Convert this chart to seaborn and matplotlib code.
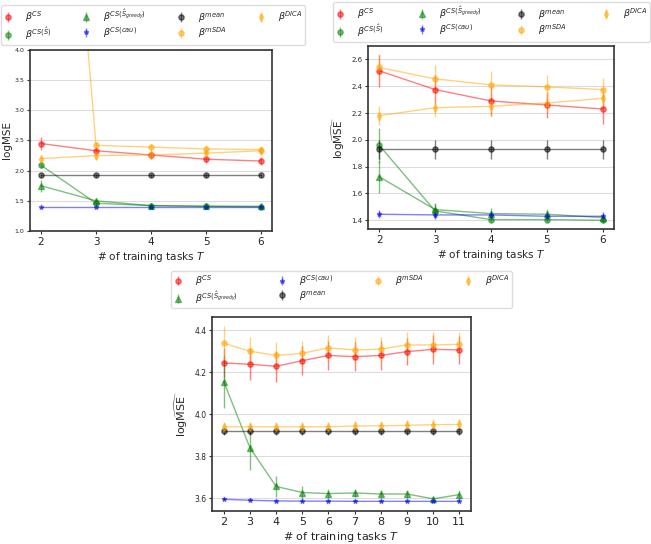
import numpy as np
import pandas as pd
import matplotlib
matplotlib.use("Agg")
import matplotlib.pyplot as plt
import seaborn as sns

# number of training tasks
T_small = [2, 3, 4, 5, 6]
T_large = [2, 3, 4, 5, 6, 7, 8, 9, 10, 11]

# panel 1 (top left)
cs_a = [2.45, 2.33, 2.26, 2.19, 2.16]
cs_a_err = [0.11, 0.07, 0.07, 0.06, 0.06]
shat_a = [2.09, 1.46, 1.42, 1.41, 1.40]
shat_a_err = [0.05, 0.03, 0.02, 0.02, 0.02]
greedy_a = [1.75, 1.50, 1.42, 1.41, 1.41]
greedy_a_err = [0.10, 0.04, 0.02, 0.02, 0.02]
cau_a = [1.39, 1.39, 1.39, 1.39, 1.39]
cau_a_err = [0.01, 0.01, 0.01, 0.01, 0.01]
mean_a = [1.92, 1.92, 1.92, 1.92, 1.92]
mean_a_err = [0.03, 0.03, 0.03, 0.03, 0.03]
msda_a = [13.3, 2.42, 2.39, 2.36, 2.35]
msda_a_err = [1.0, 0.06, 0.06, 0.06, 0.06]
dica_a = [2.20, 2.25, 2.26, 2.29, 2.33]
dica_a_err = [0.05, 0.05, 0.05, 0.05, 0.05]

# panel 2 (top right)
cs_b = [2.515, 2.375, 2.29, 2.26, 2.23]
cs_b_err = [0.12, 0.11, 0.11, 0.10, 0.11]
shat_b = [1.96, 1.47, 1.405, 1.405, 1.40]
shat_b_err = [0.13, 0.05, 0.02, 0.02, 0.02]
greedy_b = [1.725, 1.48, 1.45, 1.445, 1.42]
greedy_b_err = [0.12, 0.05, 0.04, 0.04, 0.03]
cau_b = [1.445, 1.44, 1.44, 1.43, 1.43]
cau_b_err = [0.03, 0.03, 0.03, 0.03, 0.03]
mean_b = [1.93, 1.93, 1.93, 1.93, 1.93]
mean_b_err = [0.07, 0.07, 0.07, 0.07, 0.07]
msda_b = [2.54, 2.455, 2.41, 2.395, 2.375]
msda_b_err = [0.10, 0.10, 0.10, 0.09, 0.09]
dica_b = [2.18, 2.24, 2.25, 2.275, 2.31]
dica_b_err = [0.07, 0.07, 0.07, 0.07, 0.07]

# panel 3 (bottom)
cs_c = [4.244, 4.238, 4.228, 4.255, 4.28, 4.274, 4.28, 4.298, 4.309, 4.306]
cs_c_err = [0.07, 0.075, 0.075, 0.07, 0.07, 0.07, 0.07, 0.065, 0.07, 0.065]
greedy_c = [4.155, 3.84, 3.656, 3.627, 3.622, 3.625, 3.62, 3.62, 3.597, 3.617]
greedy_c_err = [0.125, 0.105, 0.05, 0.03, 0.02, 0.02, 0.02, 0.02, 0.01, 0.02]
cau_c = [3.595, 3.59, 3.587, 3.586, 3.586, 3.585, 3.585, 3.585, 3.585, 3.585]
cau_c_err = [0.005, 0.005, 0.005, 0.005, 0.005, 0.005, 0.005, 0.005, 0.005, 0.005]
mean_c = [3.918, 3.918, 3.918, 3.918, 3.918, 3.918, 3.918, 3.918, 3.918, 3.918]
mean_c_err = [0.015, 0.015, 0.015, 0.015, 0.015, 0.015, 0.015, 0.015, 0.015, 0.015]
msda_c = [4.338, 4.30, 4.28, 4.29, 4.316, 4.306, 4.31, 4.33, 4.33, 4.333]
msda_c_err = [0.08, 0.07, 0.065, 0.06, 0.06, 0.06, 0.06, 0.06, 0.06, 0.06]
dica_c = [3.94, 3.94, 3.94, 3.94, 3.94, 3.944, 3.945, 3.947, 3.95, 3.951]
dica_c_err = [0.025, 0.025, 0.025, 0.025, 0.025, 0.025, 0.025, 0.025, 0.025, 0.025]

labels = {
    'cs': r'$\beta^{CS}$',
    'shat': r'$\beta^{CS(\hat{S})}$',
    'greedy': r'$\beta^{CS(\hat{S}_{greedy})}$',
    'cau': r'$\beta^{CS(cau)}$',
    'mean': r'$\beta^{mean}$',
    'msda': r'$\beta^{mSDA}$',
    'dica': r'$\beta^{DICA}$',
}
styles = {
    'cs': ('red', 'o', 3.8),
    'shat': ('green', 'o', 3.8),
    'greedy': ('green', '^', 3.8),
    'cau': ('blue', '*', 3.5),
    'mean': ('black', 'o', 3.8),
    'msda': ('orange', 'o', 3.8),
    'dica': ('orange', 'd', 3.8),
}

sns.set_style("whitegrid")
plt.rcParams['font.family'] = ['DejaVu Sans']


def draw_panel(ax, T, series):
    for key, (vals, errs) in series.items():
        color, marker, ms = styles[key]
        df = pd.DataFrame({'T': T, 'v': vals})
        sns.lineplot(data=df, x='T', y='v', ax=ax, color=color, alpha=0.5,
                     linewidth=1.0, legend=False)
        ax.errorbar(T, vals, yerr=errs, fmt=marker, color=color, alpha=0.5,
                    markersize=ms, elinewidth=1.0, capsize=0, label=labels[key])
    ax.grid(axis='x', visible=False)
    ax.grid(axis='y', color='#dddddd', linewidth=0.8)
    for sp in ax.spines.values():
        sp.set_edgecolor('#333333')
        sp.set_linewidth(1.2)
    ax.tick_params(axis='both', which='both', bottom=True, left=True,
                   length=2.5, width=0.8, color='#333333')
    ax.tick_params(axis='x', labelsize=7.5, pad=2)
    ax.set_xlabel(r'# of training tasks $T$', fontsize=7.5, labelpad=2)


fig = plt.figure(figsize=(6.51, 5.44), dpi=100)
ax_a = fig.add_axes([30 / 651, 1 - 231 / 544, 242 / 651, 181 / 544])
ax_b = fig.add_axes([368 / 651, 1 - 229 / 544, 246 / 651, 183 / 544])
ax_c = fig.add_axes([212 / 651, 1 - 511 / 544, 259 / 651, 194 / 544])

draw_panel(ax_a, T_small, {
    'cs': (cs_a, cs_a_err), 'shat': (shat_a, shat_a_err),
    'greedy': (greedy_a, greedy_a_err), 'cau': (cau_a, cau_a_err),
    'mean': (mean_a, mean_a_err), 'msda': (msda_a, msda_a_err),
    'dica': (dica_a, dica_a_err)})
ax_a.set_ylim(1.0, 4.0)
ax_a.set_xlim(1.8, 6.2)
ax_a.set_xticks(T_small)
ax_a.set_yticks(np.arange(1.0, 4.01, 0.5))
ax_a.set_yticklabels([f'{v:.1f}' for v in np.arange(1.0, 4.01, 0.5)])
ax_a.tick_params(axis='y', labelsize=4.5, pad=1.5)
ax_a.set_ylabel('logMSE', fontsize=7.5, labelpad=2)

draw_panel(ax_b, T_small, {
    'cs': (cs_b, cs_b_err), 'shat': (shat_b, shat_b_err),
    'greedy': (greedy_b, greedy_b_err), 'cau': (cau_b, cau_b_err),
    'mean': (mean_b, mean_b_err), 'msda': (msda_b, msda_b_err),
    'dica': (dica_b, dica_b_err)})
ax_b.set_ylim(1.335, 2.70)
ax_b.set_xlim(1.8, 6.2)
ax_b.set_xticks(T_small)
ax_b.set_yticks([1.4, 1.6, 1.8, 2.0, 2.2, 2.4, 2.6])
ax_b.set_yticklabels(['1.4', '1.6', '1.8', '2.0', '2.2', '2.4', '2.6'])
ax_b.tick_params(axis='y', labelsize=5, pad=1.5)
ax_b.set_ylabel(r'log$\widehat{\mathrm{MSE}}$', fontsize=7.5, labelpad=3)

draw_panel(ax_c, T_large, {
    'cs': (cs_c, cs_c_err), 'greedy': (greedy_c, greedy_c_err),
    'cau': (cau_c, cau_c_err), 'mean': (mean_c, mean_c_err),
    'msda': (msda_c, msda_c_err), 'dica': (dica_c, dica_c_err)})
ax_c.set_ylim(3.539, 4.463)
ax_c.set_xlim(1.55, 11.45)
ax_c.set_xticks(T_large)
ax_c.set_yticks([3.6, 3.8, 4.0, 4.2, 4.4])
ax_c.set_yticklabels(['3.6', '3.8', '4.0', '4.2', '4.4'])
ax_c.tick_params(axis='y', labelsize=5.5, pad=1.5)
ax_c.tick_params(axis='x', labelsize=8)
ax_c.set_xlabel(r'# of training tasks $T$', fontsize=8, labelpad=2)
ax_c.set_ylabel(r'log$\widehat{\mathrm{MSE}}$', fontsize=8, labelpad=3)


def put_legend(ax, x0, x1, ytop, ybot):
    h, l = ax.get_legend_handles_labels()
    ax.legend(h, l, ncol=4, loc='upper left', mode='expand',
              bbox_to_anchor=(x0 / 651, 1 - ybot / 544, (x1 - x0) / 651, (ybot - ytop) / 544),
              bbox_transform=fig.transFigure, fontsize=6.8, frameon=True,
              fancybox=True, edgecolor='#dddddd', framealpha=1.0,
              borderpad=0.25, labelspacing=0.1, handletextpad=1.3,
              borderaxespad=0.0, handlelength=1.0)


put_legend(ax_a, 1, 305, 5, 48)
put_legend(ax_b, 333, 650, 2, 43)
put_legend(ax_c, 171, 512, 271, 313)

fig.savefig('out.png', dpi=100)
